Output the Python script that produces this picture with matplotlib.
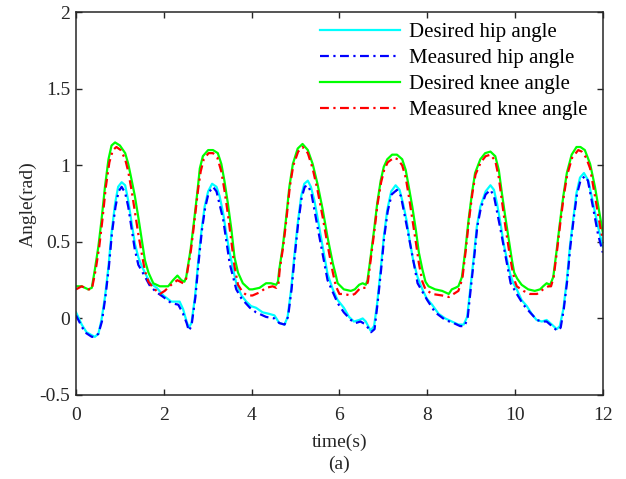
import matplotlib
matplotlib.use("Agg")
import matplotlib.pyplot as plt

plt.rcParams['font.family'] = ['Liberation Serif', 'DejaVu Serif']
plt.rcParams['mathtext.fontset'] = 'stix'

# ---- data ----
t_hip_des = [0.00, 0.05, 0.13, 0.24, 0.36, 0.43, 0.51, 0.58, 0.66, 0.74, 0.81, 0.89, 0.96, 1.04, 1.12, 1.19, 1.27, 1.34, 1.42, 1.50,
             1.57, 1.69, 1.84, 1.99, 2.17, 2.29, 2.36, 2.44, 2.52, 2.57, 2.63, 2.71, 2.78, 2.86, 2.93, 3.01, 3.10, 3.20, 3.27, 3.35,
             3.42, 3.50, 3.58, 3.65, 3.77, 3.88, 3.99, 4.10, 4.25, 4.40, 4.52, 4.63, 4.75, 4.82, 4.90, 4.97, 5.05, 5.13, 5.20, 5.28,
             5.35, 5.43, 5.50, 5.58, 5.66, 5.73, 5.85, 5.96, 6.10, 6.22, 6.33, 6.45, 6.53, 6.60, 6.71, 6.79, 6.86, 6.94, 7.01, 7.09,
             7.18, 7.28, 7.37, 7.45, 7.53, 7.60, 7.68, 7.78, 7.89, 7.99, 8.11, 8.26, 8.41, 8.56, 8.71, 8.83, 8.91, 8.98, 9.06, 9.13,
             9.21, 9.33, 9.44, 9.52, 9.59, 9.67, 9.74, 9.82, 9.89, 9.96, 10.04, 10.15, 10.27, 10.38, 10.49, 10.61, 10.72, 10.84, 10.95, 11.02,
             11.10, 11.18, 11.25, 11.33, 11.40, 11.48, 11.57, 11.67, 11.78, 11.89, 12.00]
hip_des = [0.04, 0.01, -0.04, -0.09, -0.11, -0.12, -0.10, -0.01, 0.14, 0.34, 0.56, 0.75, 0.86, 0.89, 0.87, 0.77, 0.62, 0.49, 0.40, 0.34,
           0.30, 0.23, 0.20, 0.15, 0.11, 0.11, 0.11, 0.06, -0.02, -0.06, -0.03, 0.14, 0.36, 0.58, 0.73, 0.83, 0.88, 0.86, 0.80, 0.69,
           0.56, 0.43, 0.32, 0.23, 0.15, 0.11, 0.08, 0.07, 0.04, 0.03, 0.02, -0.03, -0.04, 0.01, 0.19, 0.40, 0.62, 0.80, 0.88, 0.90,
           0.86, 0.77, 0.66, 0.53, 0.40, 0.29, 0.19, 0.12, 0.07, 0.01, -0.02, -0.01, 0.00, -0.02, -0.08, -0.05, 0.10, 0.32, 0.53, 0.71,
           0.83, 0.87, 0.84, 0.75, 0.64, 0.51, 0.38, 0.27, 0.19, 0.13, 0.09, 0.03, 0.00, -0.02, -0.04, -0.04, 0.01, 0.19, 0.40, 0.60,
           0.73, 0.83, 0.87, 0.84, 0.75, 0.62, 0.49, 0.38, 0.29, 0.23, 0.19, 0.12, 0.08, 0.03, -0.01, -0.02, -0.01, -0.04, -0.07, -0.05,
           0.06, 0.25, 0.47, 0.66, 0.82, 0.92, 0.95, 0.90, 0.75, 0.60, 0.47]

t_hip_meas = [0.00, 0.09, 0.20, 0.36, 0.43, 0.51, 0.59, 0.67, 0.75, 0.82, 0.90, 0.97, 1.04, 1.12, 1.19, 1.27, 1.34, 1.42, 1.50, 1.69,
              1.84, 1.99, 2.17, 2.33, 2.44, 2.52, 2.57, 2.63, 2.72, 2.79, 2.87, 2.94, 3.02, 3.12, 3.20, 3.35, 3.50, 3.65, 3.77, 3.96,
              4.10, 4.33, 4.52, 4.63, 4.75, 4.83, 4.91, 4.98, 5.06, 5.14, 5.21, 5.28, 5.36, 5.50, 5.73, 5.96, 6.10, 6.26, 6.37, 6.48,
              6.60, 6.72, 6.80, 6.87, 6.95, 7.02, 7.10, 7.19, 7.31, 7.40, 7.55, 7.78, 8.00, 8.18, 8.41, 8.60, 8.75, 8.85, 8.92, 8.99,
              9.07, 9.14, 9.22, 9.33, 9.44, 9.52, 9.67, 9.90, 10.04, 10.19, 10.34, 10.50, 10.61, 10.72, 10.84, 10.96, 11.04, 11.11, 11.19, 11.26,
              11.34, 11.41, 11.49, 11.59, 11.66, 11.78, 11.89, 12.00]
hip_meas = [0.02, -0.03, -0.09, -0.12, -0.12, -0.10, -0.02, 0.14, 0.34, 0.56, 0.73, 0.83, 0.86, 0.82, 0.73, 0.58, 0.45, 0.35, 0.31, 0.21,
            0.17, 0.14, 0.10, 0.09, 0.03, -0.03, -0.08, -0.05, 0.14, 0.36, 0.58, 0.72, 0.82, 0.86, 0.83, 0.65, 0.36, 0.19, 0.13, 0.07,
            0.04, 0.01, 0.00, -0.03, -0.04, 0.01, 0.19, 0.40, 0.62, 0.79, 0.86, 0.87, 0.82, 0.60, 0.25, 0.10, 0.04, -0.01, -0.03, -0.02,
            -0.04, -0.09, -0.07, 0.10, 0.32, 0.53, 0.70, 0.81, 0.84, 0.80, 0.58, 0.23, 0.12, 0.04, -0.01, -0.03, -0.05, -0.05, 0.00, 0.19,
            0.40, 0.60, 0.72, 0.81, 0.84, 0.80, 0.58, 0.23, 0.16, 0.09, 0.04, -0.01, -0.02, -0.02, -0.05, -0.08, -0.06, 0.06, 0.25, 0.47,
            0.66, 0.81, 0.90, 0.93, 0.90, 0.72, 0.55, 0.43]

t_knee_des = [0.00, 0.13, 0.28, 0.36, 0.43, 0.51, 0.58, 0.66, 0.74, 0.81, 0.89, 1.00, 1.12, 1.19, 1.27, 1.34, 1.42, 1.50, 1.57, 1.65,
              1.76, 1.91, 2.10, 2.21, 2.31, 2.40, 2.47, 2.51, 2.61, 2.69, 2.77, 2.82, 2.89, 3.01, 3.12, 3.23, 3.31, 3.38, 3.46, 3.54,
              3.61, 3.69, 3.80, 3.95, 4.02, 4.18, 4.33, 4.44, 4.56, 4.60, 4.63, 4.71, 4.78, 4.86, 4.94, 5.05, 5.16, 5.28, 5.39, 5.50,
              5.62, 5.73, 5.85, 5.92, 5.96, 6.10, 6.26, 6.35, 6.45, 6.53, 6.60, 6.64, 6.71, 6.79, 6.86, 6.94, 7.01, 7.09, 7.20, 7.31,
              7.43, 7.51, 7.58, 7.66, 7.74, 7.81, 7.89, 7.96, 8.03, 8.18, 8.34, 8.49, 8.56, 8.64, 8.71, 8.79, 8.87, 8.94, 9.02, 9.09,
              9.21, 9.32, 9.44, 9.55, 9.63, 9.70, 9.78, 9.86, 9.93, 9.98, 10.05, 10.15, 10.30, 10.45, 10.57, 10.64, 10.72, 10.80, 10.87, 10.95,
              11.02, 11.10, 11.18, 11.29, 11.40, 11.49, 11.59, 11.71, 11.82, 11.94, 12.00]
knee_des = [0.21, 0.21, 0.19, 0.20, 0.32, 0.47, 0.64, 0.86, 1.04, 1.13, 1.15, 1.13, 1.08, 1.01, 0.90, 0.80, 0.66, 0.51, 0.38, 0.30,
            0.23, 0.21, 0.21, 0.25, 0.28, 0.25, 0.24, 0.27, 0.45, 0.64, 0.84, 0.98, 1.06, 1.10, 1.10, 1.08, 1.01, 0.90, 0.75, 0.58,
            0.40, 0.30, 0.23, 0.19, 0.19, 0.20, 0.23, 0.23, 0.22, 0.24, 0.32, 0.47, 0.64, 0.86, 1.01, 1.11, 1.14, 1.10, 1.01, 0.88,
            0.71, 0.53, 0.36, 0.28, 0.23, 0.19, 0.18, 0.19, 0.22, 0.23, 0.22, 0.25, 0.40, 0.58, 0.75, 0.90, 0.99, 1.04, 1.07, 1.07,
            1.04, 0.97, 0.86, 0.73, 0.58, 0.43, 0.32, 0.24, 0.21, 0.19, 0.18, 0.16, 0.19, 0.20, 0.21, 0.27, 0.45, 0.64, 0.82, 0.95,
            1.04, 1.08, 1.09, 1.06, 0.97, 0.82, 0.66, 0.51, 0.38, 0.30, 0.26, 0.22, 0.19, 0.18, 0.19, 0.21, 0.23, 0.22, 0.27, 0.45,
            0.62, 0.80, 0.95, 1.07, 1.12, 1.12, 1.10, 1.01, 0.86, 0.66, 0.56]

t_knee_meas = [0.00, 0.13, 0.28, 0.36, 0.45, 0.53, 0.60, 0.68, 0.76, 0.84, 0.92, 1.02, 1.12, 1.19, 1.27, 1.34, 1.42, 1.50, 1.57, 1.65,
               1.76, 1.91, 2.02, 2.17, 2.31, 2.44, 2.51, 2.62, 2.70, 2.78, 2.84, 2.91, 3.02, 3.12, 3.22, 3.31, 3.38, 3.46, 3.54, 3.61,
               3.69, 3.80, 3.90, 4.02, 4.18, 4.33, 4.48, 4.56, 4.61, 4.64, 4.72, 4.79, 4.87, 4.95, 5.06, 5.16, 5.28, 5.39, 5.50, 5.62,
               5.73, 5.85, 5.92, 6.00, 6.10, 6.26, 6.35, 6.48, 6.60, 6.65, 6.72, 6.80, 6.87, 6.95, 7.02, 7.10, 7.24, 7.33, 7.43, 7.51,
               7.58, 7.66, 7.74, 7.81, 7.89, 7.96, 8.11, 8.34, 8.49, 8.60, 8.71, 8.80, 8.88, 8.95, 9.03, 9.10, 9.22, 9.33, 9.44, 9.55,
               9.63, 9.70, 9.78, 9.86, 9.93, 10.00, 10.04, 10.19, 10.34, 10.50, 10.64, 10.76, 10.82, 10.88, 10.96, 11.03, 11.11, 11.19, 11.30, 11.44,
               11.52, 11.62, 11.71, 11.82, 11.94, 12.00]
knee_meas = [0.19, 0.21, 0.19, 0.19, 0.32, 0.47, 0.64, 0.86, 1.02, 1.10, 1.12, 1.10, 1.04, 0.96, 0.83, 0.70, 0.55, 0.42, 0.31, 0.24,
             0.20, 0.16, 0.18, 0.22, 0.25, 0.23, 0.26, 0.45, 0.64, 0.84, 0.96, 1.04, 1.08, 1.08, 1.05, 0.96, 0.84, 0.68, 0.50, 0.34,
             0.22, 0.17, 0.15, 0.15, 0.17, 0.20, 0.21, 0.20, 0.22, 0.32, 0.47, 0.64, 0.86, 1.00, 1.09, 1.12, 1.08, 0.98, 0.84, 0.66,
             0.48, 0.30, 0.21, 0.16, 0.16, 0.15, 0.16, 0.20, 0.20, 0.24, 0.40, 0.58, 0.75, 0.89, 0.97, 1.02, 1.05, 1.04, 1.00, 0.92,
             0.80, 0.65, 0.50, 0.36, 0.24, 0.19, 0.16, 0.15, 0.14, 0.16, 0.18, 0.26, 0.45, 0.64, 0.82, 0.94, 1.02, 1.06, 1.07, 1.03,
             0.92, 0.77, 0.60, 0.45, 0.33, 0.24, 0.21, 0.18, 0.16, 0.16, 0.19, 0.21, 0.21, 0.27, 0.45, 0.62, 0.80, 0.94, 1.05, 1.10,
             1.09, 1.05, 0.98, 0.80, 0.60, 0.51]

labels = ['Desired hip angle', 'Measured hip angle', 'Desired knee angle', 'Measured knee angle']
x_ticks = [0, 2, 4, 6, 8, 10, 12]
y_ticks = [-0.5, 0, 0.5, 1, 1.5, 2]
y_ticklabels = ['-0.5', '0', '0.5', '1', '1.5', '2']

fig = plt.figure(figsize=(6.26, 4.79), dpi=100)
ax_l, ax_r, ax_t, ax_b = 0.1214, 0.963, 0.9743, 0.1754
ax = fig.add_axes([ax_l, ax_b, ax_r - ax_l, ax_t - ax_b])

dd = (4, 2, 1, 2)
ax.plot(t_hip_des, hip_des, color='#00FFFF', lw=1.6, label=labels[0])
ax.plot(t_hip_meas, hip_meas, color='#0000FF', lw=1.6, dashes=dd, label=labels[1])
ax.plot(t_knee_des, knee_des, color='#00FF00', lw=1.6, label=labels[2])
ax.plot(t_knee_meas, knee_meas, color='#FF0000', lw=1.6, dashes=dd, label=labels[3])

ax.set_xlim(0, 12)
ax.set_ylim(-0.5, 2)
ax.set_xticks(x_ticks)
ax.set_xticklabels([str(v) for v in x_ticks])
ax.set_yticks(y_ticks)
ax.set_yticklabels(y_ticklabels)
ax.tick_params(direction='in', length=4, width=1, top=True, right=True, labelsize=14, colors='#262626')
ax.tick_params(axis='x', pad=9)
ax.tick_params(axis='y', pad=4)
for s in ax.spines.values():
    s.set_linewidth(1.1)
    s.set_color('#262626')

ax.set_ylabel('Angle(rad)', fontsize=14, labelpad=2, color='#262626')
xc = 0.5 * (ax_l + ax_r)
fig.text(xc, 1 - 442 / 479, 'time(s)', ha='center', va='center', fontsize=14, color='#262626')
fig.text(xc, 1 - 464 / 479, '(a)', ha='center', va='center', fontsize=14, color='#262626')

leg = ax.legend(loc='upper right', frameon=False, fontsize=15, handlelength=3.85, handletextpad=0.4,
                labelspacing=0.3, borderaxespad=0.1, bbox_to_anchor=(0.99, 1.0))

fig.savefig('out.png', dpi=100)
